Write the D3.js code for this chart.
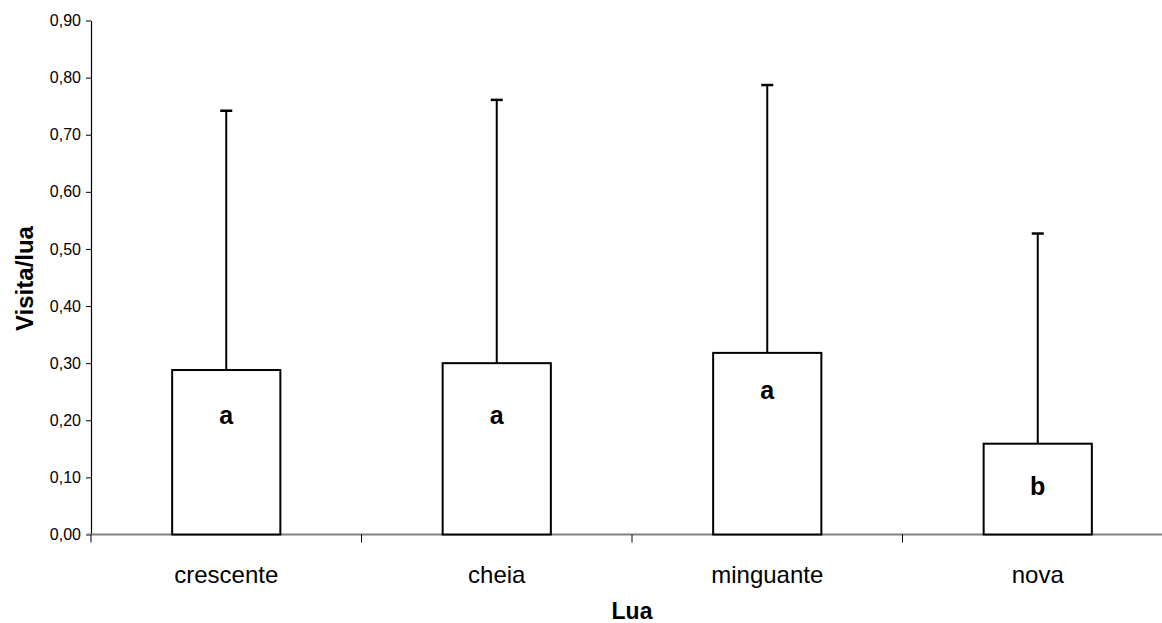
<!DOCTYPE html>
<html>
<head>
<meta charset="utf-8">
<script src="https://cdn.jsdelivr.net/npm/d3@7"></script>
<style>
  html, body { margin: 0; padding: 0; background: #fff; }
  svg { display: block; font-family: Arial, "Liberation Sans", sans-serif; }
</style>
</head>
<body>
<svg id="chart" width="1162" height="623"></svg>
<script>
// Mean visits per moon phase, with the upper error bar and group letters
const categories = ["crescente", "cheia", "minguante", "nova"];
const means = [0.288, 0.300, 0.318, 0.159];
const upperErrors = [0.742, 0.761, 0.787, 0.527];
const groupLetters = ["a", "a", "a", "b"];
const letterLevels = [0.209, 0.209, 0.253, 0.085];
const yTicks = [0, 0.1, 0.2, 0.3, 0.4, 0.5, 0.6, 0.7, 0.8, 0.9];

const svg = d3.select("#chart");
const plot = { left: 91, right: 1173, top: 20.5, bottom: 534.5 };

const y = d3.scaleLinear().domain([0, 0.9]).range([plot.bottom, plot.top]);
const x = d3.scaleBand().domain(categories)
  .range([plot.left, plot.right])
  .paddingInner(0.6).paddingOuter(0.3);

const fmt = v => d3.format(".2f")(v).replace(".", ",");

// Y axis
const yAxis = svg.append("g")
  .attr("transform", `translate(${plot.left},0)`)
  .call(d3.axisLeft(y).tickValues(yTicks).tickFormat(fmt).tickSize(5).tickSizeOuter(0));
yAxis.select(".domain").attr("stroke", "#000").attr("stroke-width", 1.2);
yAxis.selectAll(".tick line").attr("stroke", "#000");
yAxis.selectAll(".tick text")
  .attr("font-size", 16).attr("fill", "#000")
  .attr("font-family", "Arial, 'Liberation Sans', sans-serif")
  .attr("x", -10);

// X axis baseline with ticks on the category boundaries
const step = x.step();
const boundaries = d3.range(categories.length + 1).map(i => x(categories[0]) - x.paddingOuter() * step + i * step);
svg.append("line")
  .attr("x1", plot.left - 4).attr("x2", 1162)
  .attr("y1", plot.bottom).attr("y2", plot.bottom)
  .attr("stroke", "#808080").attr("stroke-width", 2);
svg.selectAll(".xtick").data(boundaries).join("line")
  .attr("class", "xtick")
  .attr("x1", d => d).attr("x2", d => d)
  .attr("y1", plot.bottom).attr("y2", plot.bottom + 8)
  .attr("stroke", "#000").attr("stroke-width", 1);

// Category labels
svg.selectAll(".cat").data(categories).join("text")
  .attr("class", "cat")
  .attr("x", d => x(d) + x.bandwidth() / 2)
  .attr("y", 583)
  .attr("text-anchor", "middle")
  .attr("font-size", 24)
  .text(d => d);

// Error bars (upper only)
const rows = categories.map((c, i) => ({ c, mean: means[i], up: upperErrors[i], letter: groupLetters[i], ly: letterLevels[i] }));
const cx = d => x(d.c) + x.bandwidth() / 2;
svg.selectAll(".err").data(rows).join("line")
  .attr("class", "err")
  .attr("x1", cx).attr("x2", cx)
  .attr("y1", d => y(d.mean)).attr("y2", d => y(d.up))
  .attr("stroke", "#000").attr("stroke-width", 2);
svg.selectAll(".cap").data(rows).join("line")
  .attr("class", "cap")
  .attr("x1", d => cx(d) - 6).attr("x2", d => cx(d) + 6)
  .attr("y1", d => y(d.up)).attr("y2", d => y(d.up))
  .attr("stroke", "#000").attr("stroke-width", 2.5);

// Bars
svg.selectAll(".bar").data(rows).join("rect")
  .attr("class", "bar")
  .attr("x", d => x(d.c))
  .attr("y", d => y(d.mean))
  .attr("width", x.bandwidth())
  .attr("height", d => y(0) - y(d.mean))
  .attr("fill", "#fff").attr("stroke", "#000").attr("stroke-width", 2);

// Group letters
svg.selectAll(".letter").data(rows).join("text")
  .attr("class", "letter")
  .attr("x", cx)
  .attr("y", d => y(d.ly))
  .attr("dy", "0.35em")
  .attr("text-anchor", "middle")
  .attr("font-size", 25).attr("font-weight", "bold")
  .text(d => d.letter);

// Axis titles
svg.append("text")
  .attr("transform", `translate(33,278.5) rotate(-90)`)
  .attr("text-anchor", "middle")
  .attr("font-size", 24).attr("font-weight", "bold")
  .text("Visita/lua");
svg.append("text")
  .attr("x", 632).attr("y", 619)
  .attr("text-anchor", "middle")
  .attr("font-size", 23).attr("font-weight", "bold")
  .text("Lua");
</script>
</body>
</html>
